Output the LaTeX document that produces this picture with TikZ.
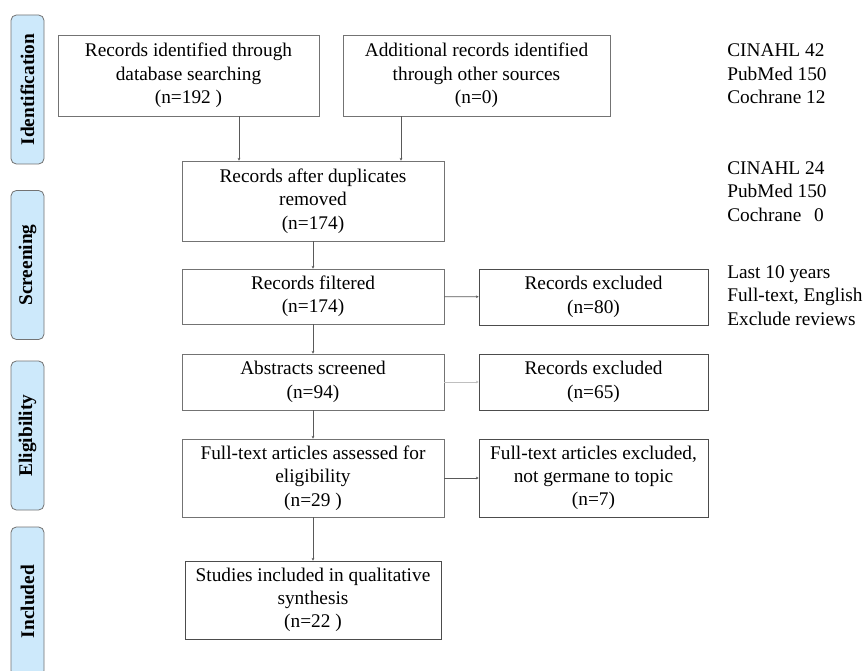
\documentclass[tikz,border=0pt]{standalone}
\usepackage{fontspec}
\setmainfont{Liberation Serif}
\usetikzlibrary{arrows.meta}
\definecolor{phaseblue}{HTML}{CDE9FB}

\begin{document}
\begin{tikzpicture}[x=0.75pt, y=-0.75pt,
	box/.style={draw=black!55, line width=0.6pt, fill=white, inner sep=0pt, align=center,
		font=\fontsize{14.5}{17.5}\selectfont},
	phase/.style={draw=black!55, line width=0.6pt, fill=phaseblue, rounded corners=4pt, rotate=90,
		minimum width=111.75pt, minimum height=24.75pt, inner sep=0pt,
		font=\bfseries\fontsize{14.5}{17.5}\selectfont},
	note/.style={anchor=west, inner sep=0pt, align=left,
		font=\fontsize{14.5}{17.6}\selectfont},
	flow/.style={draw=black!65, line width=0.6pt, -{Stealth[length=2pt, width=2pt]}}]
			%%%%% START %%%%%
			
			\clip (0, 0) rectangle (866, 670);
			\fill[white] (0, 0) rectangle (866, 670);
			
			% phases on the left
			\node[phase] (ident) at (27.5, 89.5) {Identification};
			\node[phase] (screen) at (27.5, 265) {Screening};
			\node[phase] (elig) at (27.5, 435.5) {Eligibility};
			\node[phase] (incl) at (27.5, 601.5) {Included};
			
			% identification
			\node[box, minimum width=195.75pt, minimum height=60.75pt] (dbase) at (188.5, 75.5)
				{Records identified through\\database searching\\(n=192 )};
			\node[box, minimum width=200.25pt, minimum height=60.75pt] (other) at (476.5, 75.5)
				{Additional records identified\\through other sources\\(n=0)};
			\node[note] (srcA) at (727, 74) {CINAHL 42\\PubMed 150\\Cochrane 12};
			
			% screening
			\node[box, minimum width=196.5pt, minimum height=60pt] (dupl) at (313, 201)
				{Records after duplicates\\removed\\(n=174)};
			\node[note] (srcB) at (727, 191.5) {CINAHL 24\\PubMed 150\\Cochrane\ \ \,0};
			
			\node[box, minimum width=196.5pt, minimum height=41.25pt] (filt) at (313, 296.5)
				{Records filtered\\(n=174)};
			\node[box, draw=black!70, minimum width=171.75pt, minimum height=42pt] (exclA) at (593.5, 297)
				{Records excluded\\(n=80)};
			\node[note] (limits) at (727, 295.5) {Last 10 years\\Full-text, English\\Exclude reviews};
			
			% eligibility
			\node[box, minimum width=196.5pt, minimum height=42pt] (abstr) at (313, 382)
				{Abstracts screened\\(n=94)};
			\node[box, draw=black!70, minimum width=171.75pt, minimum height=42pt] (exclB) at (593.5, 382)
				{Records excluded\\(n=65)};
			
			\node[box, minimum width=196.5pt, minimum height=58.5pt] (full) at (313, 478)
				{Full-text articles assessed for\\eligibility\\(n=29 )};
			\node[box, draw=black!70, minimum width=171.75pt, minimum height=58.5pt] (exclC) at (593.5, 478)
				{Full-text articles excluded,\\not germane to topic\\(n=7)};
			
			% included
			\node[box, draw=black!70, minimum width=192pt, minimum height=58.5pt] (study) at (313, 600)
				{Studies included in qualitative\\synthesis\\(n=22 )};
			
			% connectors
			\draw[flow] (dbase.south -| 239, 0) -- (dupl.north -| 239, 0);
			\draw[flow] (other.south -| 401, 0) -- (dupl.north -| 401, 0);
			\draw[flow] (dupl) -- (filt);
			\draw[flow] (filt) -- (abstr);
			\draw[flow] (abstr) -- (full);
			\draw[flow] (full) -- (study);
			\draw[flow] (filt) -- (exclA);
			\draw[flow, draw=black!25] (abstr) -- (exclB);
			\draw[flow] (full) -- (exclC);
			
			%%%%% END %%%%%
\end{tikzpicture}
\end{document}
